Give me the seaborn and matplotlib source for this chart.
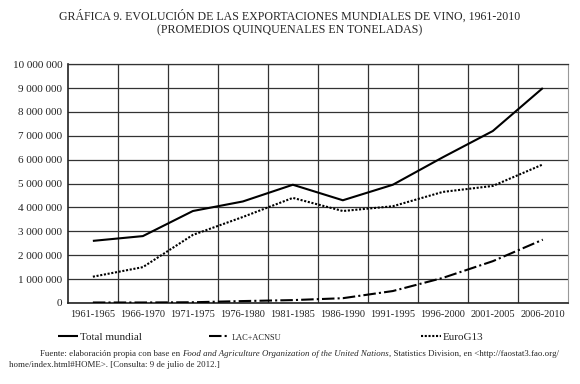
import numpy as np
import pandas as pd
import matplotlib.pyplot as plt
import seaborn as sns
from matplotlib.ticker import FuncFormatter

# Quinquennial periods and series (tonnes)
periods = ['1961-1965', '1966-1970', '1971-1975', '1976-1980', '1981-1985',
           '1986-1990', '1991-1995', '1996-2000', '2001-2005', '2006-2010']
total_mundial = [2600000, 2800000, 3850000, 4250000, 4950000,
                 4300000, 4950000, 6100000, 7200000, 9000000]
lac_acnsu = [20000, 20000, 30000, 80000, 120000,
             200000, 500000, 1050000, 1750000, 2650000]
euro_g13 = [1100000, 1500000, 2850000, 3600000, 4400000,
            3850000, 4050000, 4650000, 4900000, 5800000]

sns.set_style('white')
plt.rcParams['font.family'] = ['Liberation Serif', 'DejaVu Serif']

df = pd.DataFrame({'x': range(len(periods)),
                   'Total mundial': total_mundial,
                   'LAC+ACNSU': lac_acnsu,
                   'EuroG13': euro_g13})

fig = plt.figure(figsize=(5.8, 3.84), dpi=100)
ax = fig.add_axes([0.117, 0.211, 0.862, 0.622])

styles = {'Total mundial': (0, ()),
          'LAC+ACNSU': (0, (6, 1.5, 1, 1.5)),
          'EuroG13': (0, (1, 0.8))}
for name, ls in styles.items():
    sns.lineplot(data=df, x='x', y=name, ax=ax, color='black', lw=1.5,
                 linestyle=ls, label=name, zorder=3)

ax.set_xlim(-0.5, len(periods) - 0.5)
ax.set_ylim(0, 10000000)
ax.set_xticks(range(len(periods)))
ax.set_xticklabels(periods)
ax.set_xticks(np.arange(0.5, len(periods) - 1, 1), minor=True)
ax.set_yticks(np.arange(0, 10000001, 1000000))
ax.yaxis.set_major_formatter(FuncFormatter(lambda v, p: f'{int(v):,}'.replace(',', ' ')))
ax.tick_params(axis='both', which='both', length=0, colors='#222222')
ax.tick_params(axis='y', pad=4, labelsize=8)
ax.tick_params(axis='x', pad=5, labelsize=7.5)
ax.grid(True, axis='y', which='major', color='#333333', lw=0.9)
ax.grid(True, axis='x', which='minor', color='#333333', lw=0.9)
ax.set_xlabel('')
ax.set_ylabel('')
for s in ['left', 'bottom']:
    ax.spines[s].set_color('#222222')
    ax.spines[s].set_linewidth(1.2)
ax.spines['top'].set_color('#333333')
ax.spines['right'].set_color('#999999')
ax.spines['top'].set_linewidth(0.9)

# three separate legend entries at uneven spacing, like the original
handles, labels = ax.get_legend_handles_labels()
ax.get_legend().remove()
anchors = [-0.027, 0.276, 0.699]
for i, (h, l) in enumerate(zip(handles, labels)):
    lg = ax.legend([h], [l], loc='center left', bbox_to_anchor=(anchors[i], -0.143),
                   frameon=False, fontsize=8, handlelength=1.8, handletextpad=0.2,
                   borderaxespad=0, borderpad=0.3)
    if l == 'LAC+ACNSU':
        lg.get_texts()[0].set_fontsize(6)
    ax.add_artist(lg)
ax.legend_ = None

fig.text(0.5, 0.957, 'GRÁFICA 9. EVOLUCIÓN DE LAS EXPORTACIONES MUNDIALES DE VINO, 1961-2010',
         ha='center', va='center', fontsize=8.6)
fig.text(0.5, 0.92, '(PROMEDIOS QUINQUENALES EN TONELADAS)',
         ha='center', va='center', fontsize=8.6)

# Source note with italic segment
fig.canvas.draw()
r = fig.canvas.get_renderer()
parts = [('Fuente: elaboración propia con base en ', 'normal'),
         ('Food and Agriculture Organization of the United Nations', 'italic'),
         (', Statistics Division, en <http://faostat3.fao.org/', 'normal')]
x = 0.069
for txt, st in parts:
    t = fig.text(x, 0.077, txt, fontsize=6.4, style=st, ha='left', va='center')
    bb = t.get_window_extent(renderer=r)
    x += bb.width / fig.bbox.width
fig.text(0.016, 0.05, 'home/index.html#HOME>. [Consulta: 9 de julio de 2012.]',
         fontsize=6.4, ha='left', va='center')

fig.savefig('out.png', dpi=100)
